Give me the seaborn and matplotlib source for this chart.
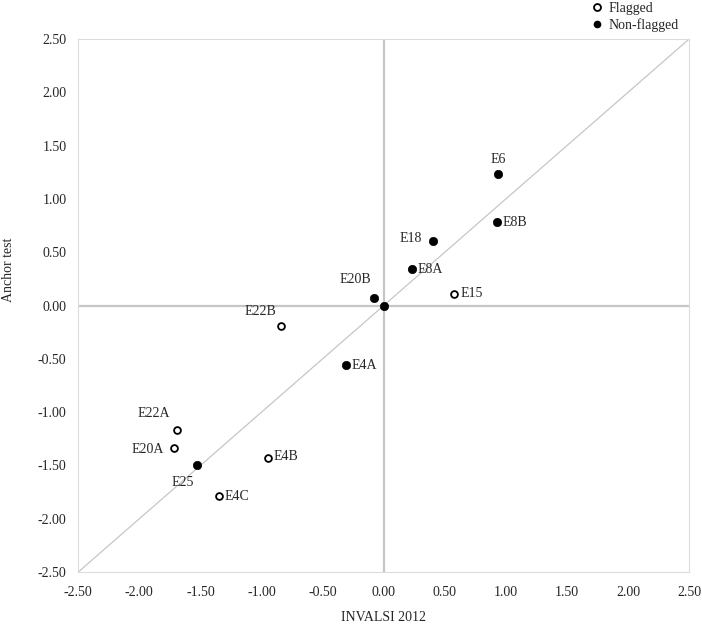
import pandas as pd
import matplotlib.pyplot as plt
import seaborn as sns
from matplotlib.lines import Line2D

# item difficulty estimates
items = ["E6", "E8B", "E18", "E8A", "E15", "E20B", "", "E22B",
         "E4A", "E22A", "E20A", "E25", "E4B", "E4C"]
invalsi = [0.94, 0.93, 0.40, 0.23, 0.58, -0.08, 0.00, -0.84,
           -0.31, -1.69, -1.72, -1.53, -0.95, -1.35]
anchor = [1.23, 0.78, 0.61, 0.34, 0.11, 0.07, 0.00, -0.19,
          -0.56, -1.17, -1.34, -1.50, -1.43, -1.79]
flagged = [False, False, False, False, True, False, False, True,
           False, True, True, False, True, True]

# label placement: offset in points, horizontal alignment
label_pos = {
    "E6": ((0, 10.5), "center"),
    "E8B": ((3.5, 0), "left"),
    "E18": ((-7.5, 1.5), "right"),
    "E8A": ((4, 0), "left"),
    "E15": ((4.5, 0), "left"),
    "E20B": ((-13, 13.5), "center"),
    "E22B": ((-15, 10.5), "center"),
    "E4A": ((4.5, 0), "left"),
    "E22A": ((-17, 12), "center"),
    "E20A": ((-7, -1), "right"),
    "E25": ((-10, -12.5), "center"),
    "E4B": ((4.3, 1), "left"),
    "E4C": ((4.3, 0), "left"),
}

FS = 10


def main():
    df = pd.DataFrame({"item": items, "invalsi": invalsi,
                       "anchor": anchor, "flagged": flagged})

    sns.set_style("white")
    plt.rcParams["font.family"] = ["Liberation Serif", "DejaVu Serif"]

    fig = plt.figure(figsize=(7.02, 6.24), dpi=100)
    ax = fig.add_axes([0.1115, 0.0833, 0.87, 0.854])

    ax.axhline(0, color="#c6c6c6", lw=1.6, zorder=1)
    ax.axvline(0, color="#c6c6c6", lw=1.6, zorder=1)
    ax.plot([-2.5, 2.5], [-2.5, 2.5], color="#c6c6c6", lw=0.9, zorder=1)

    sns.scatterplot(data=df[~df["flagged"]], x="invalsi", y="anchor",
                    color="black", s=36, edgecolor="black", linewidth=0.5,
                    ax=ax, zorder=3)
    sns.scatterplot(data=df[df["flagged"]], x="invalsi", y="anchor",
                    facecolor="white", edgecolor="black", s=24,
                    linewidth=1.3, ax=ax, zorder=3)

    for _, row in df.iterrows():
        if row["item"] == "":
            continue
        offset, ha = label_pos[row["item"]]
        ax.annotate(row["item"], (row["invalsi"], row["anchor"]),
                    xytext=offset, textcoords="offset points",
                    ha=ha, va="center", fontsize=FS)

    ticks = [-2.5, -2.0, -1.5, -1.0, -0.5, 0.0, 0.5, 1.0, 1.5, 2.0, 2.5]
    ax.set_xlim(-2.5, 2.5)
    ax.set_ylim(-2.5, 2.5)
    ax.set_xticks(ticks)
    ax.set_yticks(ticks)
    ax.set_xticklabels([f"{t:.2f}" for t in ticks])
    ax.set_yticklabels([f"{t:.2f}" for t in ticks])
    ax.tick_params(axis="x", length=0, labelsize=FS, pad=10)
    ax.tick_params(axis="y", length=0, labelsize=FS, pad=8.5)

    ax.set_xlabel("INVALSI 2012", fontsize=FS, labelpad=9)
    ax.set_ylabel("Anchor test", fontsize=FS)
    ax.yaxis.set_label_coords(-0.104, 0.567)

    for sp in ax.spines.values():
        sp.set_color("#dcdcdc")
        sp.set_linewidth(0.8)

    handles = [
        Line2D([], [], marker="o", ls="", markerfacecolor="white",
               markeredgecolor="black", markeredgewidth=1.3, markersize=5),
        Line2D([], [], marker="o", ls="", color="black", markersize=4.5),
    ]
    fig.legend(handles, ["Flagged", "Non-flagged"], loc="upper left",
               bbox_to_anchor=(0.835, 1.008), frameon=False, fontsize=FS,
               handlelength=0.6, handletextpad=0.5, borderpad=0,
               labelspacing=0.22)

    fig.savefig("out.png", dpi=100)
    plt.close(fig)


if __name__ == "__main__":
    main()
